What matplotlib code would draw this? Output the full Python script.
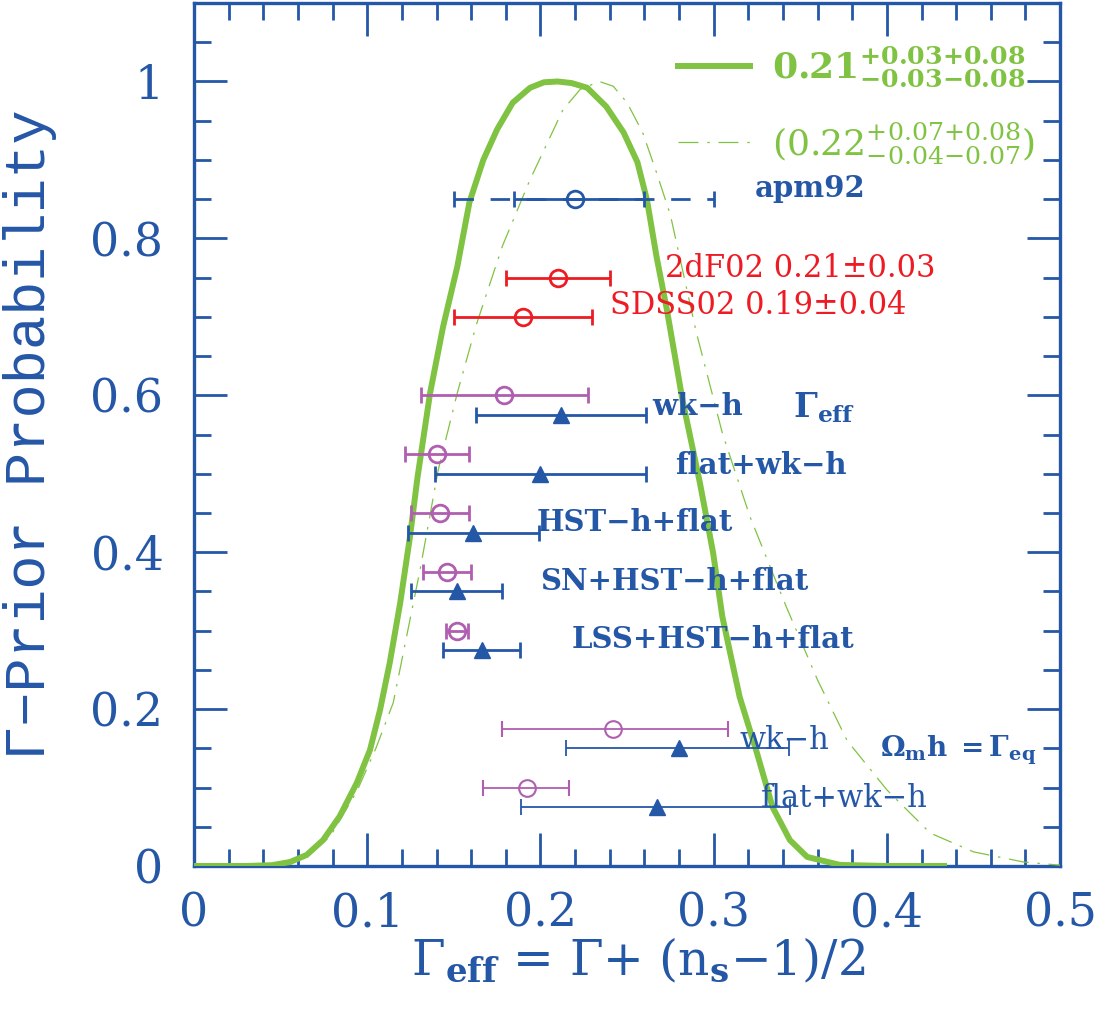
import numpy as np
import matplotlib
matplotlib.use('Agg')
import matplotlib.pyplot as plt
from matplotlib.lines import Line2D
from matplotlib.ticker import MultipleLocator

plt.rcParams['mathtext.fontset'] = 'dejavuserif'

BLUE = '#2557a7'
RED = '#ed1c24'
MAGENTA = '#b05fb0'
GREEN = '#80c342'
SERIF = 'DejaVu Serif'
MONO = 'Liberation Mono'

# posterior for Gamma_eff (combined constraint)
post_x = [0.0, 0.03, 0.045, 0.0554, 0.065, 0.0745, 0.084, 0.094, 0.1016, 0.1074,
          0.113, 0.119, 0.1247, 0.129, 0.1363, 0.1438, 0.152, 0.159, 0.167, 0.175,
          0.184, 0.194, 0.202, 0.210, 0.218, 0.227, 0.238, 0.248, 0.256, 0.2615,
          0.267, 0.273, 0.282, 0.292, 0.2997, 0.305, 0.315, 0.325, 0.334, 0.344,
          0.354, 0.373, 0.40, 0.4347]
post_y = [0.0, 0.0, 0.001, 0.005, 0.014, 0.033, 0.063, 0.106, 0.148, 0.199,
          0.259, 0.335, 0.42, 0.495, 0.603, 0.6875, 0.764, 0.846, 0.90, 0.939,
          0.973, 0.992, 0.999, 1.0, 0.998, 0.992, 0.968, 0.935, 0.897, 0.849,
          0.777, 0.709, 0.594, 0.489, 0.399, 0.318, 0.2155, 0.144, 0.075, 0.033,
          0.0115, 0.0013, 0.0, 0.0]

# alternative prior (dash-dot)
alt_x = [0.0, 0.04, 0.06, 0.07, 0.0785, 0.094, 0.105, 0.115, 0.1305, 0.141,
         0.152, 0.163, 0.178, 0.194, 0.213, 0.223, 0.234, 0.242, 0.25, 0.259,
         0.267, 0.275, 0.29, 0.305, 0.321, 0.342, 0.36, 0.377, 0.40, 0.425,
         0.45, 0.479, 0.5]
alt_y = [0.0, 0.0, 0.01, 0.022, 0.037, 0.095, 0.15, 0.208, 0.3775, 0.505,
         0.603, 0.69, 0.79, 0.875, 0.964, 0.99, 1.0, 0.994, 0.973, 0.935,
         0.884, 0.83, 0.68, 0.552, 0.445, 0.33, 0.237, 0.16, 0.097, 0.042,
         0.018, 0.005, 0.001]

# apm92
apm_x, apm_y = 0.22, 0.85
apm_in = (0.185, 0.26)
apm_out = (0.15, 0.30)

# 2dF02 and SDSS02
red_x = [0.21, 0.19]
red_err = [0.03, 0.04]
red_y = [0.75, 0.70]

# Gamma_eff fits (circles) and Omega_m h fits (triangles)
eff_y = [0.6, 0.525, 0.45, 0.375, 0.3]
eff_x = [0.179, 0.140, 0.142, 0.146, 0.152]
eff_lo = [0.131, 0.122, 0.125, 0.132, 0.1455]
eff_hi = [0.2275, 0.159, 0.159, 0.160, 0.158]

tri_y = [0.575, 0.5, 0.425, 0.35, 0.275]
tri_x = [0.212, 0.200, 0.161, 0.152, 0.166]
tri_lo = [0.163, 0.139, 0.1235, 0.125, 0.144]
tri_hi = [0.261, 0.261, 0.199, 0.178, 0.188]

# Omega_m h = Gamma_eq block
eq_c_y = [0.175, 0.1]
eq_c_x = [0.242, 0.192]
eq_c_lo = [0.178, 0.167]
eq_c_hi = [0.308, 0.2165]
eq_t_y = [0.15, 0.075]
eq_t_x = [0.280, 0.267]
eq_t_lo = [0.215, 0.189]
eq_t_hi = [0.3435, 0.344]

row_labels = ['wk\u2212h', 'flat+wk\u2212h', 'HST\u2212h+flat', 'SN+HST\u2212h+flat', 'LSS+HST\u2212h+flat']
row_label_pos = [(0.2644, 0.586), (0.2777, 0.511), (0.198, 0.438), (0.1998, 0.363), (0.218, 0.289)]
eq_labels = ['wk\u2212h', 'flat+wk\u2212h']
eq_label_pos = [(0.315, 0.160), (0.327, 0.086)]

x_ticks = [0, 0.1, 0.2, 0.3, 0.4, 0.5]
x_ticklabels = ['0', '0.1', '0.2', '0.3', '0.4', '0.5']
y_ticks = [0, 0.2, 0.4, 0.6, 0.8, 1.0]
y_ticklabels = ['0', '0.2', '0.4', '0.6', '0.8', '1']


def xerr_of(x, lo, hi):
    x = np.asarray(x)
    return [x - np.asarray(lo), np.asarray(hi) - x]


fig = plt.figure(figsize=(11.03, 10.17), dpi=100)
ax = fig.add_axes([0.1759, 0.1485, 0.7852, 0.8485])

DASHDOT = (0, (16, 7, 2, 7))
ax.plot(post_x, post_y, color=GREEN, lw=4.3, solid_capstyle='butt', zorder=3)
ax.plot(alt_x, alt_y, color=GREEN, lw=0.9, linestyle=DASHDOT, zorder=3)

# apm92: outer dashed + inner solid
eb = ax.errorbar(apm_x, apm_y, xerr=[[apm_x - apm_out[0]], [apm_out[1] - apm_x]],
                 fmt='none', ecolor=BLUE, elinewidth=2, capsize=6, capthick=2, zorder=4)
eb[2][0].set_linestyle((0, (7, 6)))
ax.errorbar(apm_x, apm_y, xerr=[[apm_x - apm_in[0]], [apm_in[1] - apm_x]],
            fmt='o', ms=12, mfc='none', mec=BLUE, mew=2, ecolor=BLUE,
            elinewidth=2, capsize=6, capthick=2, zorder=5)

ax.errorbar(red_x, red_y, xerr=red_err, fmt='o', ms=12, mfc='none', mec=RED, mew=2,
            ecolor=RED, elinewidth=2, capsize=6, capthick=2, zorder=5)

ax.errorbar(eff_x, eff_y, xerr=xerr_of(eff_x, eff_lo, eff_hi), fmt='o', ms=12,
            mfc='none', mec=MAGENTA, mew=2, ecolor=MAGENTA, elinewidth=2,
            capsize=6, capthick=2, zorder=5)
ax.errorbar(tri_x, tri_y, xerr=xerr_of(tri_x, tri_lo, tri_hi), fmt='^', ms=11,
            color=BLUE, ecolor=BLUE, elinewidth=2, capsize=6, capthick=2, zorder=5)

ax.errorbar(eq_c_x, eq_c_y, xerr=xerr_of(eq_c_x, eq_c_lo, eq_c_hi), fmt='o', ms=12,
            mfc='none', mec=MAGENTA, mew=1.5, ecolor=MAGENTA, elinewidth=1.3,
            capsize=6, capthick=1.3, zorder=5)
ax.errorbar(eq_t_x, eq_t_y, xerr=xerr_of(eq_t_x, eq_t_lo, eq_t_hi), fmt='^', ms=11,
            color=BLUE, ecolor=BLUE, elinewidth=1.3, capsize=6, capthick=1.3, zorder=5)

# labels
ax.text(0.324, 0.864, 'apm92', color=BLUE, family=SERIF, weight='bold', fontsize=21, va='center')
ax.text(0.272, 0.762, '2dF02 0.21\u00b10.03', color=RED, family=SERIF, fontsize=22, va='center')
ax.text(0.240, 0.714, 'SDSS02 0.19\u00b10.04', color=RED, family=SERIF, fontsize=22, va='center')
for lab, (tx, ty) in zip(row_labels, row_label_pos):
    ax.text(tx, ty, lab, color=BLUE, family=SERIF, weight='bold', fontsize=21, va='center')
for lab, (tx, ty) in zip(eq_labels, eq_label_pos):
    ax.text(tx, ty, lab, color=BLUE, family=SERIF, fontsize=22, va='center')
ax.text(0.346, 0.584, r'$\mathbf{\Gamma_{eff}}$', color=BLUE, fontsize=24, va='center')
ax.text(0.396, 0.148, r'$\mathbf{\Omega_{m}h\ {=}\Gamma_{eq}}$', color=BLUE, fontsize=20, va='center')

# legend
handles = [Line2D([], [], color=GREEN, lw=4.3),
           Line2D([], [], color=GREEN, lw=0.9, linestyle=DASHDOT)]
labels = [r'$\mathbf{0.21^{+0.03{+}0.08}_{-0.03{-}0.08}}$',
          r'$(0.22^{+0.07{+}0.08}_{-0.04{-}0.07})$']
leg = ax.legend(handles, labels, loc='upper left', bbox_to_anchor=(0.559, 0.952),
                frameon=False, fontsize=26, handlelength=2.0, handletextpad=0.6,
                labelspacing=0.85, borderaxespad=0, borderpad=0)
for t in leg.get_texts():
    t.set_color(GREEN)

# axes
ax.set_xlim(0, 0.5)
ax.set_ylim(0, 1.1)
ax.xaxis.set_minor_locator(MultipleLocator(0.02))
ax.yaxis.set_minor_locator(MultipleLocator(0.05))
ax.set_xticks(x_ticks, x_ticklabels)
ax.set_yticks(y_ticks, y_ticklabels)
ax.tick_params(which='both', direction='in', top=True, right=True, color=BLUE,
               labelcolor=BLUE, width=2)
ax.tick_params(which='major', length=24)
ax.tick_params(which='minor', length=12)
ax.tick_params(axis='x', pad=18)
ax.tick_params(axis='y', pad=22)
for lab in ax.get_xticklabels() + ax.get_yticklabels():
    lab.set_family(SERIF)
    lab.set_fontsize(33)
for s in ax.spines.values():
    s.set_color(BLUE)
    s.set_linewidth(2.4)

ax.set_xlabel('$\\Gamma_{\\mathbf{eff}}$ = \u0393+ (n$_{\\mathbf{s}}$\u22121)/2',
              color=BLUE, fontsize=35, family=SERIF, va='center')
ax.xaxis.set_label_coords(0.513, -0.109)
ax.set_ylabel('\u0393\u2212Prior Probability', color=BLUE, fontsize=41, family=MONO, va='center')
ax.yaxis.set_label_coords(-0.189, 0.4994)

fig.savefig('out.png', dpi=100)
